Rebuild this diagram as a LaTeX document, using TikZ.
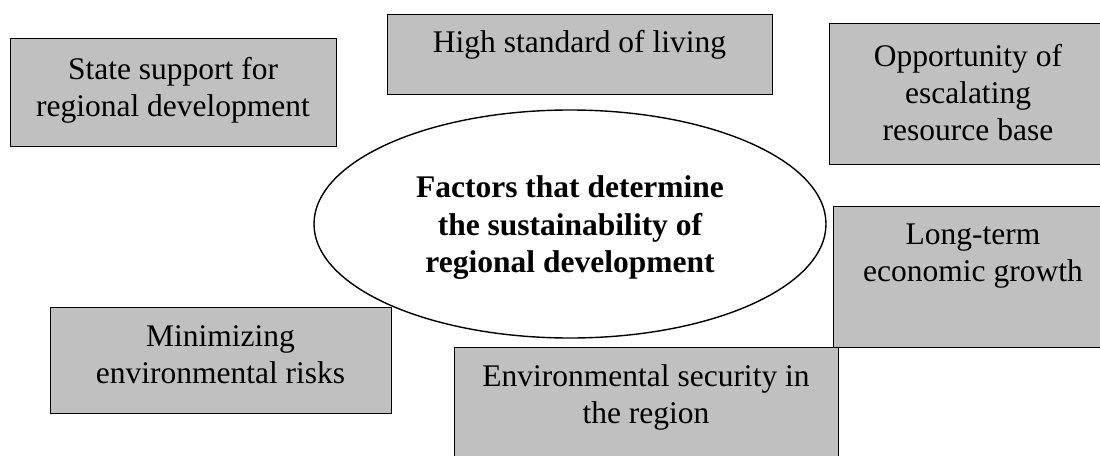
\documentclass[tikz,border=0pt]{standalone}
\usepackage{fontspec}
\setmainfont{Liberation Serif}
\usetikzlibrary{shapes.geometric}
\definecolor{boxgray}{HTML}{C0C0C0}
\begin{document}
\begin{tikzpicture}[x=1pt,y=-1pt,
  factorbox/.style={draw=black, line width=1.4pt, fill=boxgray, inner sep=0pt, anchor=north west},
  factortext/.style={font=\fontsize{31.5}{37}\selectfont, align=center, inner sep=0pt},
  coreshape/.style={draw=black, line width=1.4pt, ellipse, inner sep=0pt}
]
\useasboundingbox (0,0) rectangle (1100,455);
\clip (0,0) rectangle (1100,455);

% boxes
\node[factorbox, minimum width=326pt, minimum height=108pt] (b1) at (10,38) {};
\node[factorbox, minimum width=385pt, minimum height=80pt]  (b2) at (387,14) {};
\node[factorbox, minimum width=290pt, minimum height=141pt] (b3) at (829,23) {};
\node[factorbox, minimum width=290pt, minimum height=141pt] (b4) at (833,206) {};
\node[factorbox, minimum width=341pt, minimum height=106pt] (b5) at (50,307) {};
\node[factorbox, minimum width=384pt, minimum height=130pt] (b6) at (454,347) {};

% central ellipse
\node[coreshape, minimum width=512pt, minimum height=228pt] (core) at (570,224) {};

% texts
\node[factortext] (t1) at (173,90) {State support for\\regional development};
\node[factortext] (t2) at (579.5,45) {High standard of living};
\node[factortext] (t3) at (968,92.5) {Opportunity of\\escalating\\resource base};
\node[factortext] (t4) at (973,256) {Long-term\\economic growth};
\node[factortext] (t5) at (220.5,355) {Minimizing\\environmental risks};
\node[factortext] (t6) at (646,397) {Environmental security in\\the region};
\node[factortext, font=\fontsize{31.5}{37.5}\selectfont\bfseries] (tc) at (570,228) {Factors that determine\\the sustainability of\\regional development};
\end{tikzpicture}
\end{document}
